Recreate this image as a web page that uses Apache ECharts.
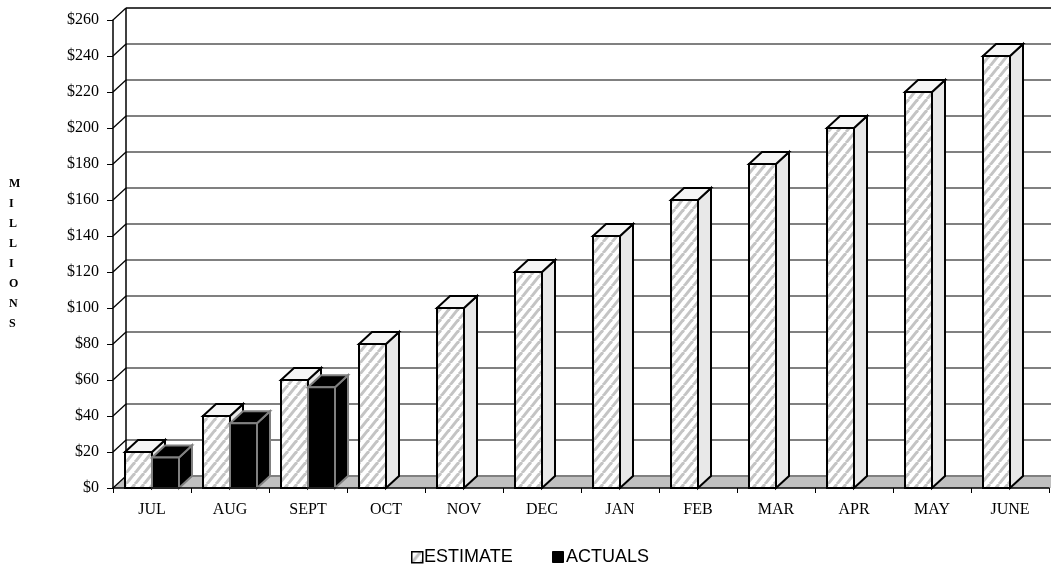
<!DOCTYPE html>
<html>
<head>
<meta charset="utf-8">
<script src="https://cdn.jsdelivr.net/npm/echarts/dist/echarts.min.js"></script>
<style>
  html, body { margin: 0; padding: 0; background: #ffffff; }
  #chart { width: 1051px; height: 573px; }
</style>
</head>
<body>
<div id="chart"></div>
<script>
// Monthly budget: estimate vs. actuals (millions of dollars)
const months = ['JUL', 'AUG', 'SEPT', 'OCT', 'NOV', 'DEC', 'JAN', 'FEB', 'MAR', 'APR', 'MAY', 'JUNE'];
const estimate = [20, 40, 60, 80, 100, 120, 140, 160, 180, 200, 220, 240];
const actuals = [17, 36, 56];
const yTicks = [0, 20, 40, 60, 80, 100, 120, 140, 160, 180, 200, 220, 240, 260];
const seriesNames = ['ESTIMATE', 'ACTUALS'];
const axisTitle = 'MILLIONS';

// depth offset of the pseudo-3D walls and columns
const DX = 13, DY = -12;
const BAR_RATIO = 27 / 78;

// diagonal hatch used on the estimate columns
const hatch = (function () {
  const w = 9, h = 11;
  const c = document.createElement('canvas');
  c.width = w; c.height = h;
  const ctx = c.getContext('2d');
  ctx.fillStyle = '#ffffff';
  ctx.fillRect(0, 0, w, h);
  ctx.strokeStyle = '#c4c4c4';
  ctx.lineWidth = 3;
  for (let k = -1; k <= 1; k++) {
    ctx.beginPath();
    ctx.moveTo(k * w, h);
    ctx.lineTo(k * w + w, 0);
    ctx.stroke();
  }
  return c;
})();

const estStyle = { front: { image: hatch, repeat: 'repeat' }, side: '#e8e8e8', top: '#f5f5f5', edge: '#000000', lw: 2 };
const actStyle = { front: '#000000', side: '#000000', top: '#000000', edge: '#808080', lw: 2 };

function column(x0, yTop, yBase, w, st) {
  const common = { stroke: st.edge, lineWidth: st.lw, lineJoin: 'miter' };
  return {
    type: 'group',
    children: [
      { type: 'polygon', shape: { points: [[x0 + w, yTop], [x0 + w + DX, yTop + DY], [x0 + w + DX, yBase + DY], [x0 + w, yBase]] },
        style: Object.assign({ fill: st.side }, common) },
      { type: 'polygon', shape: { points: [[x0, yTop], [x0 + w, yTop], [x0 + w + DX, yTop + DY], [x0 + DX, yTop + DY]] },
        style: Object.assign({ fill: st.top }, common) },
      { type: 'rect', shape: { x: x0, y: yTop, width: w, height: yBase - yTop },
        style: Object.assign({ fill: st.front }, common) }
    ]
  };
}

function renderColumns(offsetSide, st) {
  return function (params, api) {
    const idx = api.value(0);
    const top = api.coord([idx, api.value(1)]);
    const base = api.coord([idx, 0]);
    const band = api.size([1, 0])[0];
    const w = band * BAR_RATIO;
    const x0 = offsetSide < 0 ? top[0] - w : top[0];
    return column(x0, top[1], base[1], w, st);
  };
}

// back wall, floor and tick connectors
function renderWalls(params, api) {
  const cs = params.coordSys;
  const left = cs.x, right = 1051;
  const children = [];
  const y0 = api.coord([0, yTicks[0]])[1];
  children.push({
    type: 'polygon',
    shape: { points: [[left, y0], [right, y0], [right, y0 + DY], [left + DX, y0 + DY]] },
    style: { fill: '#c0c0c0' }
  });
  yTicks.forEach(function (t, i) {
    const y = api.coord([0, t])[1];
    const last = i === yTicks.length - 1;
    children.push({
      type: 'line',
      shape: { x1: left + DX, y1: y + DY, x2: right, y2: y + DY },
      style: { stroke: last ? '#000000' : '#808080', lineWidth: last ? 1.5 : 2 }
    });
    children.push({
      type: 'line',
      shape: { x1: left, y1: y, x2: left + DX, y2: y + DY },
      style: { stroke: '#000000', lineWidth: 1.2 }
    });
  });
  const yTop = api.coord([0, yTicks[yTicks.length - 1]])[1];
  children.push({
    type: 'line',
    shape: { x1: left + DX, y1: yTop + DY, x2: left + DX, y2: y0 + DY },
    style: { stroke: '#000000', lineWidth: 1.5 }
  });
  return { type: 'group', children: children };
}

const chart = echarts.init(document.getElementById('chart'), null, { renderer: 'canvas' });

chart.setOption({
  animation: false,
  backgroundColor: '#ffffff',
  grid: { left: 113, right: 2, top: 20, bottom: 85, containLabel: false },
  xAxis: {
    type: 'category',
    data: months,
    boundaryGap: true,
    axisLine: { show: true, lineStyle: { color: '#000000', width: 1.5 } },
    axisTick: { show: true, length: 5, lineStyle: { color: '#000000', width: 1 } },
    axisLabel: { color: '#000000', fontFamily: 'Liberation Serif', fontSize: 16, margin: 14 },
    splitLine: { show: false },
    z: 10
  },
  yAxis: {
    type: 'value',
    min: 0,
    max: 260,
    interval: 20,
    axisLine: { show: true, lineStyle: { color: '#000000', width: 1.5 } },
    axisTick: { show: true, length: 6, lineStyle: { color: '#000000', width: 1 } },
    axisLabel: {
      color: '#000000', fontFamily: 'Liberation Serif', fontSize: 16, margin: 14,
      formatter: function (v) { return '$' + v; }
    },
    splitLine: { show: false }
  },
  graphic: [
    {
      type: 'text', left: 9, top: 174,
      style: {
        text: axisTitle.split('').join('\n'),
        font: 'bold 12px "Liberation Serif"',
        fill: '#000000', align: 'center', lineHeight: 20
      }
    },
    { type: 'rect', left: 411, top: 551, shape: { width: 11, height: 11 },
      style: { fill: { image: hatch, repeat: 'repeat' }, stroke: '#000000', lineWidth: 1.5 } },
    { type: 'text', left: 424, top: 548,
      style: { text: seriesNames[0], font: '18px "Liberation Sans"', fill: '#000000' } },
    { type: 'rect', left: 552, top: 551, shape: { width: 11, height: 11 },
      style: { fill: '#000000', stroke: '#000000', lineWidth: 1 } },
    { type: 'text', left: 566, top: 548,
      style: { text: seriesNames[1], font: '18px "Liberation Sans"', fill: '#000000' } }
  ],
  series: [
    {
      type: 'custom',
      name: 'walls',
      renderItem: renderWalls,
      data: [[0, 0]],
      z: 1,
      silent: true
    },
    {
      type: 'custom',
      name: seriesNames[0],
      renderItem: renderColumns(-1, estStyle),
      data: estimate.map(function (v, i) { return [i, v]; }),
      z: 3
    },
    {
      type: 'custom',
      name: seriesNames[1],
      renderItem: renderColumns(1, actStyle),
      data: actuals.map(function (v, i) { return [i, v]; }),
      z: 4
    }
  ]
});
</script>
</body>
</html>
